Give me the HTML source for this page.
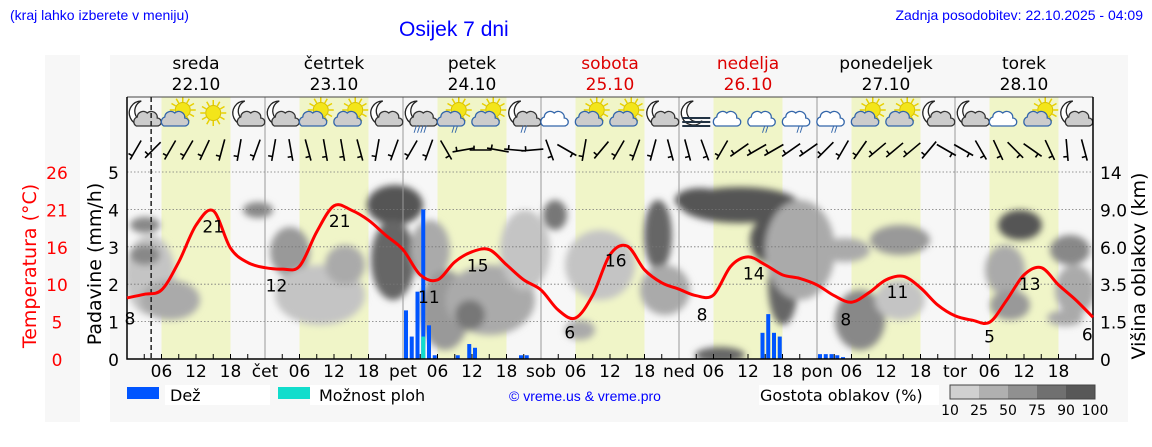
<!DOCTYPE html>
<html><head><meta charset="utf-8"><style>
body{margin:0;background:#fff;width:1152px;height:443px;overflow:hidden;font-family:"DejaVu Sans","Liberation Sans",sans-serif}
</style></head><body>
<svg id="chart" width="1152" height="443" xmlns="http://www.w3.org/2000/svg" font-family="DejaVu Sans, Liberation Sans, sans-serif">
<defs><filter id="blur" x="-50%" y="-50%" width="200%" height="200%"><feGaussianBlur stdDeviation="3.5"/></filter>
<clipPath id="plotclip"><rect x="127" y="172" width="966" height="187"/></clipPath></defs>
<rect x="45" y="55" width="35" height="367" fill="#f7f7f7"/>
<rect x="110" y="55" width="1018" height="367" fill="#f7f7f7"/>
<text x="10" y="20" font-family="Liberation Sans, sans-serif" font-size="14" fill="#0000ff">(kraj lahko izberete v meniju)</text>
<text x="399" y="36" font-family="Liberation Sans, sans-serif" font-size="21" fill="#0000ff">Osijek 7 dni</text>
<text x="1143" y="20" text-anchor="end" font-family="Liberation Sans, sans-serif" font-size="14" fill="#0000ff">Zadnja posodobitev: 22.10.2025 - 04:09</text>
<g id="yellow"></g>
<g id="clouds" clip-path="url(#plotclip)" filter="url(#blur)"></g>
<g id="grid"></g>
<g id="icons"></g>
<g id="wind"></g>
<g id="bars"></g>
<g id="axes"></g>
<g id="temp"></g>
<text transform="translate(36,266) rotate(-90)" text-anchor="middle" font-size="19" fill="#ff0000">Temperatura (°C)</text>
<text transform="translate(101,264) rotate(-90)" text-anchor="middle" font-size="19" fill="#000">Padavine (mm/h)</text>
<text transform="translate(1145,266) rotate(-90)" text-anchor="middle" font-size="19" fill="#000">Višina oblakov (km)</text>
<g>
<rect x="127" y="387" width="32" height="12" fill="#0055ff"/>
<rect x="165" y="385" width="105" height="20" fill="#fff"/>
<text x="170" y="401" font-size="16">Dež</text>
<rect x="278" y="387" width="32" height="12" fill="#11ddcc"/>
<rect x="310" y="385" width="110" height="20" fill="#fff"/>
<text x="319" y="401" font-size="16">Možnost ploh</text>
<text x="585" y="401" text-anchor="middle" font-family="Liberation Sans, sans-serif" font-size="14" fill="#0000ff">© vreme.us &amp; vreme.pro</text>
<rect x="759" y="385" width="180" height="20" fill="#fff"/>
<text x="760" y="401" font-size="16">Gostota oblakov (%)</text>
<g id="cbar"></g>
</g>
</svg>
<script>
const hours=[0,3,6,9,12,15,18,21,24,27,30,33,36,39,42,45,48,51,54,57,60,63,66,69,72,75,78,81,84,87,90,93,96,99,102,105,108,111,114,117,120,123,126,129,132,135,138,141,144,147,150,153,156,159,162,165,168];
const temps=[8.5,9.0,9.6,13.5,18.6,20.6,15.4,13.4,12.7,12.5,12.9,17.7,21.3,20.7,19.3,17.2,15.2,11.7,11.0,13.5,14.9,15.2,13.1,11.0,9.6,6.8,5.7,8.9,14.5,15.7,12.4,10.6,9.7,8.8,8.9,12.9,14.2,13.1,11.7,11.2,10.3,8.8,7.9,9.2,11.0,11.5,9.9,7.5,6.0,5.4,5.1,8.2,11.7,12.7,10.3,8.2,5.8];
const tempLabels=[8,21,12,21,11,15,6,16,8,14,8,11,5,13,6];
const tempLabelHours=[0.5,15,26,37,52.5,61,77,85,100,109,125,134,150,157,167];
const tempLabelValues=[5.6,18.4,10.2,19.2,8.6,13.0,3.7,13.7,6.2,11.9,5.5,9.3,3.1,10.4,3.4];
const rainHours=[48,49,50,51,52,53,57,59,60,68,69,110,111,112,113,120,121,122,123,124];
const rainValues=[1.3,0.6,1.8,4.0,0.9,0.1,0.1,0.4,0.3,0.1,0.1,0.7,1.2,0.7,0.6,0.13,0.13,0.13,0.1,0.05];
const showerHours=[51];
const showerValues=[0.6];
const dayNames=['sreda','četrtek','petek','sobota','nedelja','ponedeljek','torek'];
const dayDates=['22.10','23.10','24.10','25.10','26.10','27.10','28.10'];
const dayShort=['','čet','pet','sob','ned','pon','tor'];
const weekendDays=[3,4];
const precipTicks=[0,1,2,3,4,5];
const tempTicks=['0','5','10','16','21','26'];
const heightTicks=['0','1.5','3.5','6.0','9.0','14'];
const iconTypes=['m','s','S','m','m','s','s','m','mr','sr','s','mr','c','s','s','m','f','c','r','r','r','s','s','m','m','c','s','m'];
const windAngles=[-30,-45,-30,-30,-25,-15,-10,-20,-10,10,15,10,10,15,-10,-20,-30,-20,30,-80,-90,-100,-95,-85,20,60,-10,-40,-30,-20,-15,15,15,20,-30,-55,-60,-60,-55,-55,-45,-30,-35,-50,-50,-50,-40,60,60,30,25,45,55,25,5,15];
const cloudBlobs=[[150,275,25,40,'#c4c4c4'],[145,225,15,8,'#888'],[145,255,15,10,'#888'],[170,300,30,20,'#aaa'],[258,210,15,8,'#888'],[290,252,20,25,'#999'],[320,295,45,30,'#c4c4c4'],[345,265,20,20,'#aaa'],[395,205,28,20,'#555'],[393,260,22,40,'#666'],[430,250,20,30,'#aaa'],[445,310,25,40,'#999'],[490,300,45,35,'#aaa'],[470,315,15,15,'#777'],[525,250,25,40,'#c4c4c4'],[555,215,12,15,'#777'],[600,265,35,35,'#c4c4c4'],[580,330,15,10,'#aaa'],[658,235,14,35,'#666'],[665,290,25,25,'#aaa'],[740,205,60,18,'#555'],[700,200,25,12,'#555'],[775,240,25,25,'#555'],[783,285,15,40,'#666'],[800,250,35,50,'#aaa'],[720,355,25,8,'#666'],[845,250,25,12,'#aaa'],[900,240,30,15,'#999'],[860,320,25,30,'#888'],[900,300,25,20,'#c4c4c4'],[1020,225,22,15,'#555'],[1005,270,20,25,'#aaa'],[1070,250,20,15,'#888'],[1075,290,20,25,'#aaa'],[1010,305,20,15,'#999'],[1065,318,18,8,'#aaa']];
const NS='http://www.w3.org/2000/svg';
const X0=127,X1=1093,Y0=359,Y1=172;
const xh=h=>X0+h*(X1-X0)/168;
const yp=p=>Y0-p*(Y0-Y1)/5;
const yt=t=>Y0-t*(Y0-Y1)/26;
function mk(tag,attrs,parent,txt){const e=document.createElementNS(NS,tag);for(const k in attrs)e.setAttribute(k,attrs[k]);if(txt!==undefined)e.textContent=txt;document.getElementById(parent).appendChild(e);return e;}
for(let d=0;d<7;d++){const e=mk('rect',{x:xh(d*24+6),y:97,width:xh(12)-X0,height:Y0-97,fill:'#f0f5c8'},'yellow');

}
cloudBlobs.forEach(b=>{const e=mk('ellipse',{cx:b[0],cy:b[1],rx:b[2],ry:b[3],fill:b[4]},'clouds');

});
precipTicks.forEach((p,i)=>{if(p>0){const g=mk('line',{x1:X0,x2:X1,y1:yp(p),y2:yp(p),stroke:'#777','stroke-width':0.8,'stroke-dasharray':'1.5,2'},'grid');

}
const a=mk('text',{x:119,y:yp(p)+7,'text-anchor':'end','font-size':17},'axes',String(p));


const t=mk('text',{x:57,y:yp(p)+7,'text-anchor':'middle','font-size':17,fill:'#ff0000'},'axes',tempTicks[i]);


const r=mk('text',{x:1100,y:yp(p)+7,'font-size':17},'axes',heightTicks[i]);

});
for(let d=0;d<7;d++){const cx=xh(d*24+12);const col=weekendDays.includes(d)?'#dd0000':'#000';
const n=mk('text',{x:cx,y:69,'text-anchor':'middle','font-size':17,fill:col},'axes',dayNames[d]);


const dt=mk('text',{x:cx,y:90,'text-anchor':'middle','font-size':17,fill:col},'axes',dayDates[d]);


if(d>0){const l=mk('line',{x1:xh(d*24),x2:xh(d*24),y1:97,y2:Y0,stroke:'#999','stroke-width':1},'grid');


const s=mk('text',{x:xh(d*24),y:377,'text-anchor':'middle','font-size':17},'axes',dayShort[d]);

}
[6,12,18].forEach(h=>{const s=mk('text',{x:xh(d*24+h),y:377,'text-anchor':'middle','font-size':17},'axes',String(h).padStart(2,'0'));

});
for(let h=3;h<24;h+=3){const k=mk('line',{x1:xh(d*24+h),x2:xh(d*24+h),y1:Y0,y2:Y0-5,stroke:'#000'},'axes');

}}
const tl=mk('line',{x1:X0,x2:X1,y1:97,y2:97,stroke:'#444'},'axes');


const ax=mk('path',{d:`M${X0} 97 V${Y0} H${X1} V97`,fill:'none',stroke:'#000','stroke-width':1.5},'axes');


const now=mk('line',{x1:xh(4.2),x2:xh(4.2),y1:97,y2:Y0,stroke:'#222','stroke-width':1.5,'stroke-dasharray':'5,3'},'axes');


iconTypes.forEach((t,i)=>{const cx=xh(i*6+3),cy=116;const g=mk('g',{},'icons');


const id='ic'+i;g.id=id;
if(t[0]==='m'||t==='f'){mk('path',{d:`M${cx-3} ${cy-15} A12 12 0 1 0 ${cx+6} ${cy+5} A10 10 0 0 1 ${cx-3} ${cy-15}Z`,fill:'#fff',stroke:'#222','stroke-width':1.3},id);}
if(t[0]==='s'||t==='S'){const sx=t==='S'?cx:cx+4,sy=t==='S'?cy-3:cy-6;for(let a=0;a<360;a+=30){const r=a*Math.PI/180;mk('line',{x1:sx+8*Math.cos(r),y1:sy+8*Math.sin(r),x2:sx+13*Math.cos(r),y2:sy+13*Math.sin(r),stroke:'#e8d000','stroke-width':1.5},id);}mk('circle',{cx:sx,cy:sy,r:7.5,fill:'#f3e51a',stroke:'#d8c000'},id);}
if(t!=='S'&&t!=='f'){const blue=(t[0]==='s'||t==='c'||t==='r');const fill=t[0]==='m'?'#ccc':(t==='c'||t==='r'?'#fff':'#ccc');const ox=t[0]==='m'?cx+4:cx-3;
mk('path',{d:`M${ox-12} ${cy+10} a5 5 0 0 1 1 -9 a6 6 0 0 1 10 -4 a6 6 0 0 1 10 5 a4 4 0 0 1 0 8 z`,fill:fill,stroke:blue?'#3366aa':'#333','stroke-width':1.3},id);}
if(t==='f'){for(let k=0;k<3;k++)mk('line',{x1:cx-14,x2:cx+14,y1:cy+2+k*4,y2:cy+2+k*4,stroke:'#234',"stroke-width":2},id);}
if(t.includes('r')){mk('text',{x:cx,y:cy+16,'text-anchor':'middle','font-size':9,fill:'#36a','font-weight':'bold'},id,t==='mr'&&i===8?'////':'//');}
});
windAngles.forEach((a,i)=>{const cx=xh(i*3+1.5),cy=150;const r=a*Math.PI/180;const dx=Math.sin(r)*11,dy=Math.cos(r)*11;
const g=mk('path',{d:`M${cx-dx} ${cy-dy} L${cx+dx} ${cy+dy} M${cx+dx*0.6} ${cy+dy*0.6} l${-dy*0.4} ${dx*0.4}`,stroke:'#000','stroke-width':1.6,fill:'none'},'wind');

});
const bw=4;
rainHours.forEach((h,i)=>{const e=mk('rect',{x:xh(h)+1,y:yp(rainValues[i]),width:bw,height:Y0-yp(rainValues[i]),fill:'#0055ff'},'bars');

});
showerHours.forEach((h,i)=>{const e=mk('rect',{x:xh(h)+1,y:yp(showerValues[i]),width:bw,height:Y0-yp(showerValues[i]),fill:'#11ddcc'},'bars');

});
// smooth temperature line (Catmull-Rom)
const pts=hours.map((h,i)=>[xh(h),yt(temps[i])]);
let d='M'+pts[0][0].toFixed(1)+' '+pts[0][1].toFixed(1);
for(let i=0;i<pts.length-1;i++){const p0=pts[Math.max(0,i-1)],p1=pts[i],p2=pts[i+1],p3=pts[Math.min(pts.length-1,i+2)];
const c1=[p1[0]+(p2[0]-p0[0])/6,p1[1]+(p2[1]-p0[1])/6],c2=[p2[0]-(p3[0]-p1[0])/6,p2[1]-(p3[1]-p1[1])/6];
d+=` C${c1[0].toFixed(1)} ${c1[1].toFixed(1)} ${c2[0].toFixed(1)} ${c2[1].toFixed(1)} ${p2[0].toFixed(1)} ${p2[1].toFixed(1)}`;}
const tp=mk('path',{d:d,fill:'none',stroke:'#ff0000','stroke-width':3,'stroke-linejoin':'round'},'temp');


tempLabels.forEach((v,i)=>{const e=mk('text',{x:xh(tempLabelHours[i]),y:yt(tempLabelValues[i])+6,'text-anchor':'middle','font-size':17},'temp',String(v));

});
const cbCols=['#d0d0d0','#b0b0b0','#909090','#707070','#585858'];const cbLab=['10','25','50','75','90','100'];
cbCols.forEach((c,i)=>{const e=mk('rect',{x:950+i*29,y:385,width:29,height:14,fill:c},'cbar');

});
mk('rect',{x:950,y:385,width:145,height:14,fill:'none',stroke:'#444'},'cbar');
cbLab.forEach((l,i)=>{const e=mk('text',{x:950+i*29,y:415,'text-anchor':'middle','font-size':14},'cbar',l);

});
</script>
</body></html>
